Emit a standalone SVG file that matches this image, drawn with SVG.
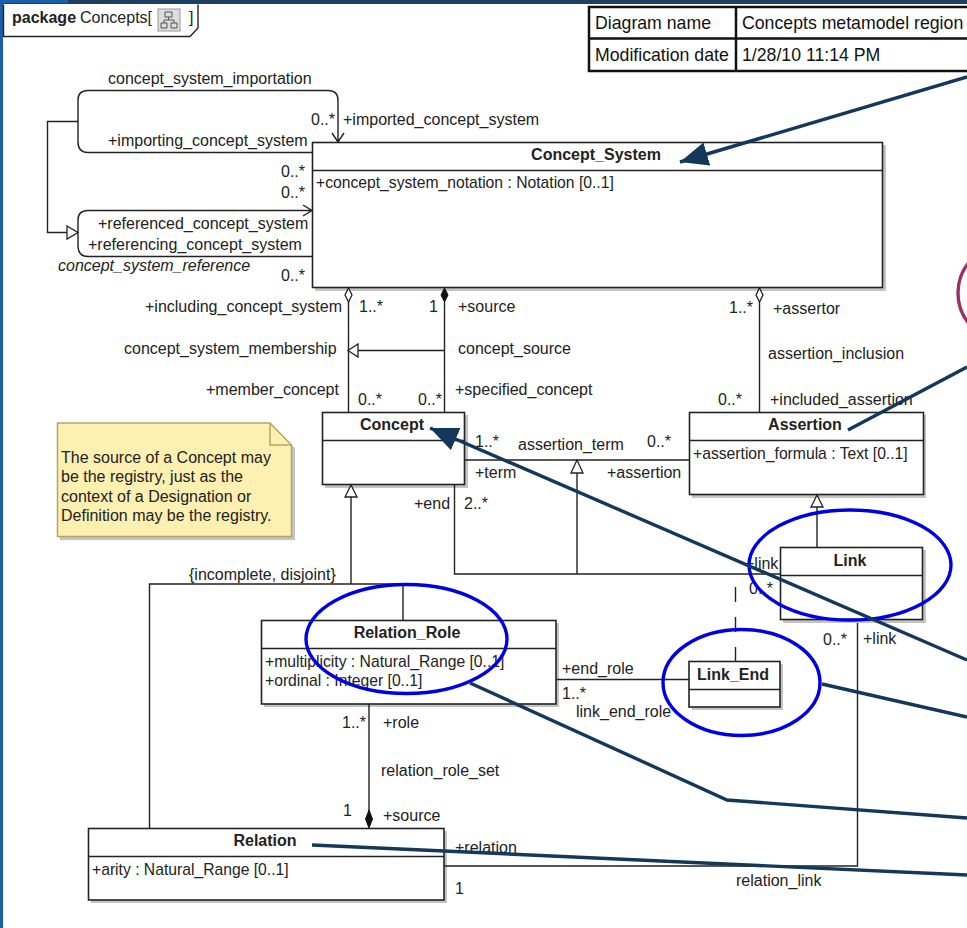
<svg xmlns="http://www.w3.org/2000/svg" width="967" height="928" viewBox="0 0 967 928">
<style>
text{font-family:"Liberation Sans",Arial,sans-serif;font-size:16px;fill:#222}
.b{font-weight:bold;text-anchor:middle}
.a{font-size:15.700px}
.c{fill:none;stroke:#222;stroke-width:1.4}
.box{fill:#fff;stroke:#222;stroke-width:1.6}
.sh{fill:#c4c4c4}
.d{fill:#fff;stroke:#222;stroke-width:1.3}
.k{fill:#111;stroke:#111}
.ring{fill:none;stroke:#0000e6;stroke-width:3.4}
.nav{fill:none;stroke:#14375c;stroke-width:3.4}
.t{font-size:17.7px;fill:#111}
</style>
<defs>
<marker id="head" markerUnits="userSpaceOnUse" markerWidth="30" markerHeight="24" refX="28" refY="12" orient="auto"><path d="M0 0L28 12L0 24Z" fill="#14375c"/></marker>
</defs>
<rect width="967" height="928" fill="#fff"/>
<rect width="967" height="4" fill="#1f3f62"/><rect width="68" height="3" fill="#1a5fa8"/><rect width="3" height="928" fill="#1a5fa8"/>
<g id="frame"><path class="c" d="M3.500 4.500V36.500H190L198 28V4.500" stroke-width="1.500"/>
<text x="12" y="23" font-weight="bold">package</text><text x="80" y="23">Concepts[</text><text x="189" y="23">]</text>
<g><rect x="158" y="9" width="22" height="22" fill="#ddd" stroke="#999"/><path d="M165 12h7v5h-7zM161 23h6v5h-6zM171 23h6v5h-6zM168.500 17v3M164 23v-3h10v3" fill="none" stroke="#555"/></g></g>
<g id="table"><rect x="589" y="7" width="390" height="64" fill="#fff" stroke="#111" stroke-width="2.500"/><path d="M589 38.500H967M736 7V71" stroke="#111" stroke-width="2.500"/>
<text class="t" x="595" y="29">Diagram name</text><text class="t" x="742" y="29">Concepts metamodel region</text><text class="t" x="595" y="61">Modification date</text><text class="t" x="742" y="61">1/28/10 11:14 PM</text></g>
<g id="note"><path class="sh" d="M60 426H273L295 448V540H60Z"/><path d="M57.500 423H270L291.500 445V536.500H57.500Z" fill="#fdf0b0" stroke="#b5a565" stroke-width="1.500"/><path d="M270 423V445H291.500" fill="none" stroke="#b5a565" stroke-width="1.500"/>
<text x="61" y="463">The source of a Concept may</text><text x="61" y="482">be the registry, just as the</text><text x="61" y="502">context of a Designation or</text><text x="61" y="521">Definition may be the registry.</text></g>
<g id="concept-system"><rect class="sh" x="315" y="145" width="571" height="146"/><rect class="box" x="312.500" y="142.500" width="570" height="145"/><path class="c" d="M312 170.500H883"/><text class="b" x="596" y="160">Concept_System</text><text class="a" x="316" y="188">+concept_system_notation : Notation [0..1]</text></g>
<g id="concept"><rect class="sh" x="325" y="415" width="143" height="73"/><rect class="box" x="322.500" y="412.500" width="142" height="72"/><path class="c" d="M322 440.500H465"/><text class="b" x="392" y="430">Concept</text></g>
<g id="assertion"><rect class="sh" x="692" y="415" width="234" height="83"/><rect class="box" x="689.500" y="412.500" width="234" height="82"/><path class="c" d="M689 440.500H924"/><text class="b" x="805" y="430">Assertion</text><text class="a" x="693" y="459">+assertion_formula : Text [0..1]</text></g>
<g id="link"><rect class="sh" x="783" y="550" width="143" height="73"/><rect class="box" x="780.500" y="547.500" width="142" height="72"/><path class="c" d="M780 575.500H923"/><text class="b" x="850" y="566">Link</text></g>
<g id="link-end"><rect class="sh" x="692" y="664" width="91" height="46"/><rect class="box" x="689" y="661.500" width="91" height="45.500"/><path class="c" d="M689 689.500H780"/><text class="b" x="733" y="680">Link_End</text></g>
<g id="relation-role"><rect class="sh" x="264" y="623" width="295" height="84"/><rect class="box" x="261.500" y="620.500" width="294.500" height="83.500"/><path class="c" d="M261 648.500H556"/><text class="b" x="407" y="638">Relation_Role</text><text class="a" x="265" y="667">+multiplicity : Natural_Range [0..1]</text><text class="a" x="265" y="686">+ordinal : Integer [0..1]</text></g>
<g id="relation"><rect class="sh" x="91" y="831" width="356" height="72"/><rect class="box" x="88.500" y="828.500" width="355.500" height="71.500"/><path class="c" d="M88 856.500H444"/><text class="b" x="265" y="846">Relation</text><text class="a" x="92" y="875">+arity : Natural_Range [0..1]</text></g>
<g id="connectors">
<path class="c" d="M312 152.500H88Q78 152.500 78 142V100Q78 90.500 88 90.500H328Q338 90.500 338 100V142M332 133L338 142L344 133"/>
<path class="c" d="M312 256.500H88Q78 256.500 78 246V220Q78 210.500 88 210.500H312M303 205L312 210.500L303 216"/>
<path class="c" d="M78 121.500H47.500V232.500H67"/><path class="d" d="M67 226L78 232.500L67 239Z"/>
<path class="c" d="M348.500 302V412M444.500 302V412M444 350.500H358M759.500 302V412"/>
<path class="d" d="M348.500 288L352 295L348.500 302L345 295Z"/><path class="k" d="M444.500 288L448 295L444.500 302L441 295Z"/><path class="d" d="M759.500 288L763 295L759.500 302L756 295Z"/><path class="d" d="M348 350.500L358 344V357Z"/>
<path class="c" d="M465 460H689M454.500 485V574H780M577 473V574"/><path class="d" d="M577 460L571 473H583Z"/>
<path class="c" d="M351 497V584M149.500 828V584H403V620"/><path class="d" d="M351 485L345 497H357Z"/>
<path class="c" d="M817 507V547"/><path class="d" d="M817 495L811 507H823Z"/>
<path class="c" d="M735.500 587V661" stroke-dasharray="15 15"/>
<path class="c" d="M857.500 623V866H444"/>
<path class="c" d="M369 704V812M556 679.500H689"/><path class="k" d="M369 810L372.500 819L369 828L365.500 819Z"/>
</g>
<g id="labels">
<text x="108" y="84">concept_system_importation</text><text x="311" y="125">0..*</text><text x="343" y="125">+imported_concept_system</text><text x="108" y="146">+importing_concept_system</text>
<text x="281" y="177">0..*</text><text x="281" y="198">0..*</text><text x="98" y="229">+referenced_concept_system</text><text x="88" y="250">+referencing_concept_system</text><text x="58" y="271" font-style="italic">concept_system_reference</text><text x="281" y="281">0..*</text>
<text x="145" y="312">+including_concept_system</text><text x="359" y="312">1..*</text><text x="429" y="312">1</text><text x="458" y="312">+source</text><text x="729" y="313">1..*</text><text x="773" y="314">+assertor</text>
<text x="124" y="354">concept_system_membership</text><text x="458" y="354">concept_source</text><text x="768" y="359">assertion_inclusion</text>
<text x="206" y="395">+member_concept</text><text x="455" y="395">+specified_concept</text><text x="358" y="405">0..*</text><text x="418" y="405">0..*</text><text x="718" y="405">0..*</text><text x="770" y="405">+included_assertion</text>
<text x="475" y="447">1..*</text><text x="518" y="450">assertion_term</text><text x="647" y="447">0..*</text><text x="475" y="478">+term</text><text x="607" y="478">+assertion</text>
<text x="414" y="509">+end</text><text x="464" y="509">2..*</text><text x="189" y="580">{incomplete, disjoint}</text><text x="745" y="569">+link</text><text x="749" y="594">0..*</text>
<text x="823" y="645">0..*</text><text x="863" y="644">+link</text><text x="562" y="674">+end_role</text><text x="562" y="699">1..*</text><text x="576" y="717">link_end_role</text>
<text x="342" y="728">1..*</text><text x="383" y="728">+role</text><text x="381" y="776">relation_role_set</text><text x="343" y="816">1</text><text x="383" y="821">+source</text>
<text x="455" y="853">+relation</text><text x="455" y="894">1</text><text x="736" y="886">relation_link</text>
</g>
<g id="annotations">
<ellipse class="ring" cx="850" cy="565" rx="101" ry="55"/><ellipse class="ring" cx="741.500" cy="682.500" rx="78.500" ry="53"/><ellipse class="ring" cx="406.500" cy="639" rx="100.500" ry="54.500"/>
<ellipse cx="1010" cy="293" rx="52" ry="50" fill="none" stroke="#9a2f6a" stroke-width="3.400"/>
<path class="nav" d="M967 77L680 162" marker-end="url(#head)"/>
<path class="nav" d="M848 430L967 367"/>
<path class="nav" d="M967 660L430 428" marker-end="url(#head)"/>
<path class="nav" d="M822 684L967 717"/>
<path class="nav" d="M470 683L727 800L967 818"/>
<path class="nav" d="M312 845L967 875"/>
</g>
</svg>
